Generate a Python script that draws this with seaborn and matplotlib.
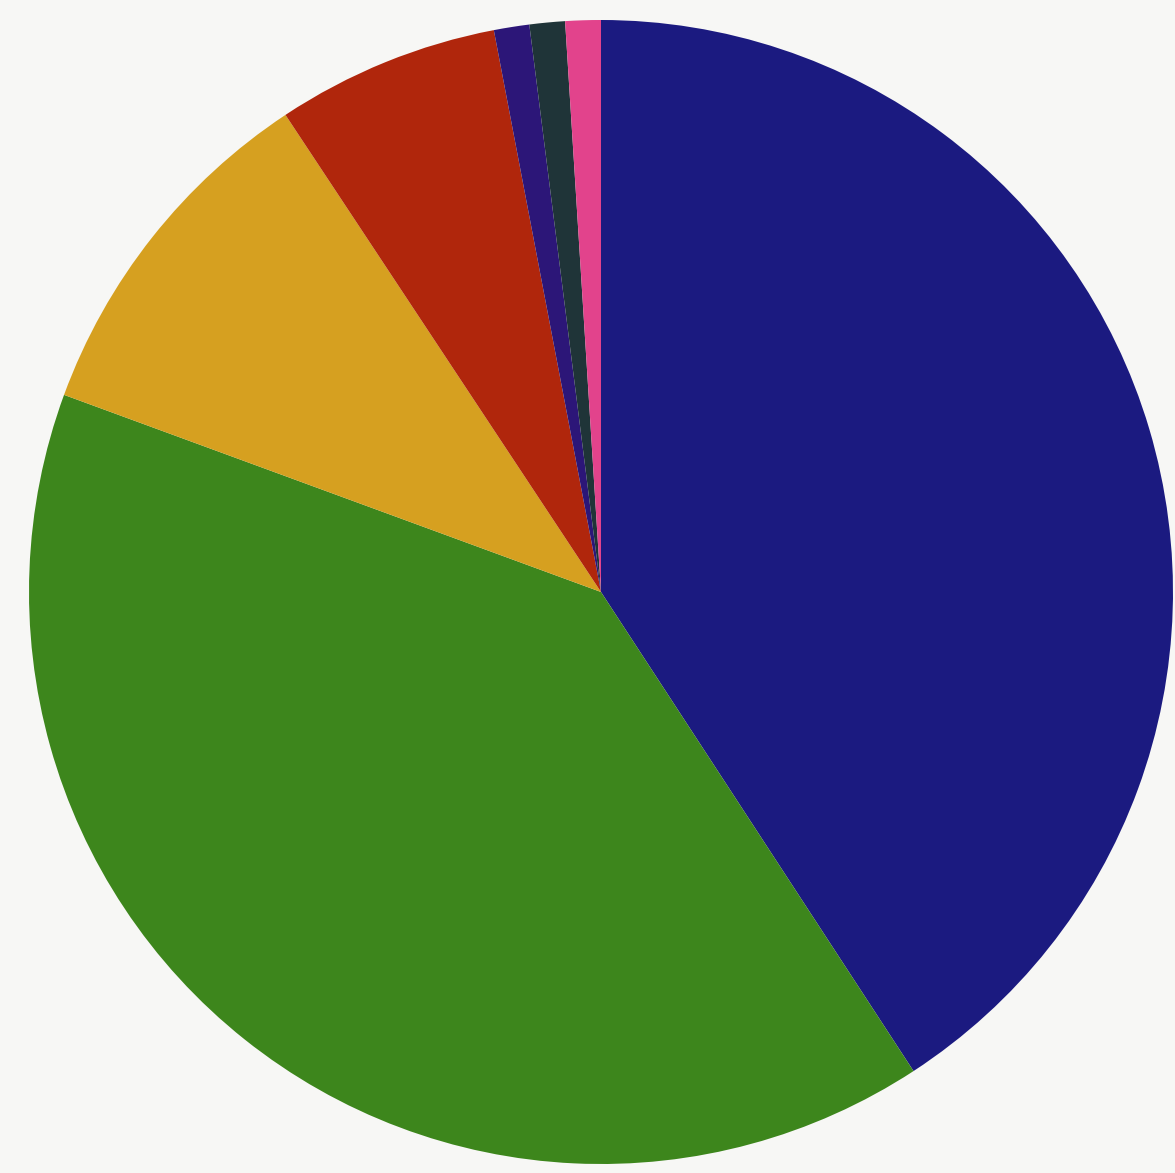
import matplotlib
matplotlib.use("Agg")
import matplotlib.pyplot as plt
import seaborn as sns

categories = ["Blue", "Green", "Orange", "Red", "Purple", "Dark", "Pink"]
shares = [40.8, 39.8, 10.1, 6.3, 1.0, 1.0, 1.0]
colors = ["#1b1a80", "#3d861c", "#d6a020", "#b0260c", "#2c1678", "#1f3438", "#e2438c"]

sns.set_theme(style="white")
palette = sns.color_palette(colors)

W, H = 1175, 1173
fig = plt.figure(figsize=(W / 100, H / 100), dpi=100)
fig.patch.set_facecolor("#f7f7f5")
R = 572
cx, cy = 601, 592
ax = fig.add_axes([(cx - R) / W, (H - cy - R) / H, 2 * R / W, 2 * R / H])
ax.pie(shares, colors=palette, startangle=90, counterclock=False,
       wedgeprops=dict(linewidth=0), radius=1.0)
ax.set_xlim(-1, 1)
ax.set_ylim(-1, 1)
ax.set_aspect("equal")
ax.axis("off")
fig.savefig("out.png", dpi=100, facecolor=fig.get_facecolor())
